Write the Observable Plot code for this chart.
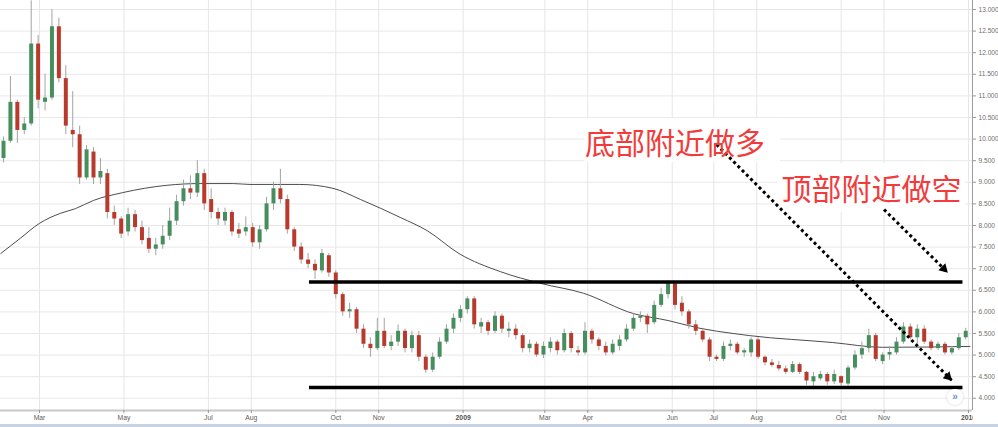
<!DOCTYPE html>
<html><head><meta charset="utf-8">
<script src="https://cdn.jsdelivr.net/npm/d3@7"></script>
<script src="https://cdn.jsdelivr.net/npm/@observablehq/plot@0.6"></script>
<style>
body{margin:0;background:#fff;}
#wrap{position:relative;width:998px;height:427px;overflow:hidden;background:#fff;}
#wrap svg{position:absolute;left:0;top:0;}
.strip{position:absolute;left:0;top:424px;width:998px;height:3px;background:#c7d2e4;}
.clip{position:absolute;left:973px;top:411px;width:25px;height:12px;background:#fff;}
.btn{position:absolute;left:947px;top:389px;width:16px;height:16px;border-radius:50%;background:#fff;box-shadow:0 0 3px rgba(0,0,0,0.18);color:#6f8fc8;font:bold 10px "Liberation Sans",Arial,sans-serif;text-align:center;line-height:15px;}
</style></head><body>
<div id="wrap"></div>
<script>
// ---- candle data (one candle every 5 calendar days, starting 2008-02-04) ----
const candleStart = "2008-02-04";
const candleStepDays = 5;
const open  = [9.55,9.95,10.85,10.2,10.35,12.2,10.85,10.95,12.6,11.4,10.2,10.1,9.1,9.7,9.1,9.2,8.3,8.15,7.85,8.25,
7.95,7.7,7.45,7.55,7.75,8.1,8.55,8.85,8.75,9.2,8.6,8.3,8.1,8.3,7.9,7.85,7.95,7.6,7.9,8.5,
8.85,8.6,7.9,7.5,7.2,7.1,6.95,7.3,6.9,6.4,6.0,6.05,5.6,5.25,5.15,5.55,5.2,5.3,5.55,5.15,
5.45,4.95,4.65,4.95,5.3,5.6,5.85,6.05,6.3,5.65,5.75,5.55,5.9,5.55,5.6,5.45,5.15,5.25,5.0,5.15,
5.3,5.1,5.5,5.1,5.05,5.55,5.35,5.2,5.05,5.2,5.35,5.6,5.85,5.9,5.75,6.15,6.4,6.65,6.2,6.0,
5.7,5.55,5.35,4.95,4.9,5.2,5.25,5.05,5.05,5.35,4.95,4.82,4.76,4.68,4.6,4.78,4.6,4.38,4.45,4.55,
4.38,4.5,4.33,4.7,5.0,5.15,5.45,4.85,5.0,5.05,5.3,5.65,5.4,5.6,5.3,5.15,5.25,5.05,5.15,5.4];
const close = [9.95,10.85,10.2,10.35,12.2,10.9,10.95,12.6,11.4,10.3,10.1,9.1,9.75,9.1,9.25,8.3,8.15,7.8,8.25,7.95,
7.65,7.45,7.55,7.75,8.1,8.55,8.85,8.75,9.2,8.5,8.3,8.15,8.3,7.85,7.8,7.95,7.6,7.9,8.5,8.85,
8.6,7.9,7.5,7.2,7.1,6.95,7.35,6.9,6.4,6.0,6.05,5.6,5.25,5.15,5.55,5.2,5.3,5.55,5.15,5.45,
4.95,4.65,4.95,5.3,5.6,5.85,6.05,6.3,5.7,5.75,5.55,5.9,5.6,5.6,5.45,5.15,5.25,5.0,5.2,5.3,
5.1,5.5,5.15,5.05,5.55,5.35,5.2,5.05,5.25,5.35,5.6,5.85,5.9,5.7,6.15,6.4,6.68,6.15,6.0,5.7,
5.55,5.35,4.95,4.9,5.2,5.25,5.05,5.1,5.35,4.95,4.82,4.76,4.68,4.6,4.78,4.6,4.4,4.5,4.55,4.38,
4.55,4.35,4.7,5.0,5.15,5.45,4.9,5.0,5.06,5.3,5.65,5.4,5.6,5.3,5.15,5.25,5.05,5.15,5.4,5.55];
const high  = [10.05,11.45,10.9,10.5,13.2,12.4,11.5,13.0,12.8,11.7,11.1,10.3,9.85,9.8,9.55,9.3,8.45,8.2,8.4,8.35,
8.1,7.95,7.7,8.0,8.4,8.7,9.05,9.15,9.5,9.3,8.85,8.4,8.4,8.35,8.05,8.2,8.05,8.0,8.65,9.0,
9.3,8.7,7.95,7.6,7.35,7.2,7.45,7.35,6.95,6.45,6.2,6.1,5.7,5.4,5.85,5.85,5.45,5.7,5.6,5.55,
5.55,5.0,5.05,5.4,5.7,5.95,6.15,6.35,6.35,5.85,5.8,6.0,5.95,5.75,5.7,5.5,5.35,5.3,5.3,5.4,
5.35,5.6,5.55,5.2,5.75,5.6,5.4,5.3,5.35,5.45,5.7,5.95,6.0,5.95,6.25,6.55,6.72,6.7,6.35,6.05,
5.8,5.6,5.4,5.0,5.3,5.35,5.3,5.15,5.4,5.4,4.98,4.9,4.85,4.75,4.85,4.82,4.62,4.6,4.62,4.6,
4.65,4.52,4.75,5.1,5.3,5.6,5.5,5.05,5.2,5.4,5.75,5.72,5.7,5.68,5.35,5.3,5.3,5.2,5.5,5.62];
const low   = [9.45,9.9,9.9,10.1,10.3,10.7,10.65,10.9,11.3,10.1,9.8,8.95,9.05,8.95,8.95,8.15,8.0,7.7,7.75,7.85,
7.55,7.35,7.3,7.45,7.65,8.0,8.45,8.6,8.65,8.35,8.15,8.0,8.0,7.75,7.7,7.75,7.5,7.45,7.85,8.35,
8.5,7.8,7.4,7.1,7.0,6.75,6.9,6.8,6.3,5.9,5.85,5.5,5.15,4.95,5.1,5.15,5.1,5.2,5.05,5.05,
4.85,4.58,4.6,4.9,5.25,5.5,5.75,5.95,5.6,5.5,5.45,5.5,5.5,5.4,5.35,5.05,5.05,4.95,4.92,5.05,
5.0,5.05,5.05,4.98,5.0,5.25,5.1,4.98,5.0,5.1,5.3,5.55,5.75,5.5,5.7,6.1,6.3,6.05,5.9,5.6,
5.45,5.3,4.85,4.85,4.85,5.1,5.0,4.95,4.95,4.9,4.75,4.72,4.63,4.55,4.57,4.55,4.3,4.27,4.4,4.3,
4.32,4.28,4.28,4.65,4.9,5.05,4.85,4.78,4.88,5.0,5.25,5.35,5.2,5.25,5.1,5.1,5.0,5.0,5.1,5.35];

// ---- moving average ----
const maDates = ["2008-02-02","2008-02-16","2008-03-01","2008-03-16","2008-03-27","2008-04-09","2008-04-30","2008-06-01","2008-06-25","2008-07-19","2008-07-31","2008-08-20","2008-09-05","2008-09-29","2008-10-19","2008-11-17","2008-12-06","2008-12-29","2009-01-28","2009-02-26","2009-03-29","2009-05-04","2009-05-29","2009-06-21","2009-07-15","2009-07-27","2009-09-25","2009-10-31","2010-01-02"];
const maValues = [7.35,7.7,8.05,8.28,8.39,8.58,8.76,8.93,8.97,8.97,8.95,8.95,8.95,8.86,8.6,8.18,7.88,7.35,6.93,6.66,6.43,5.96,5.8,5.62,5.5,5.45,5.29,5.18,5.2];

// ---- support / resistance levels ----
const levelValues = [6.69, 4.25];
const levelStart = "2008-09-12";
const levelEnd = "2009-12-28";

// ---- annotations ----
const noteTexts = ["底部附近做多", "顶部附近做空"];
const noteDates = ["2009-06-03", "2009-10-23"];
const notePrices = [9.875, 8.81];
const boxStart = ["2009-03-30", "2009-08-17"];
const boxEnd   = ["2009-08-18", "2009-12-30"];
const boxTop   = [10.48, 9.43];
const boxBottom= [9.46, 8.30];
const arrowStartDates = ["2009-07-03", "2009-11-01"];
const arrowStartPrices = [9.875, 8.37];
const arrowEndDates = ["2009-12-20", "2009-12-17"];
const arrowEndPrices = [4.41, 6.91];

// ---- axes ----
const xTickDates = ["2008-03-01","2008-05-01","2008-07-01","2008-08-01","2008-10-01","2008-11-01","2009-01-01","2009-03-01","2009-04-01","2009-06-01","2009-07-01","2009-08-01","2009-10-01","2009-11-01","2010-01-01"];
const xTickLabels = ["Mar","May","Jul","Aug","Oct","Nov","2009","Mar","Apr","Jun","Jul","Aug","Oct","Nov","2010"];
const yTicks = [4,4.5,5,5.5,6,6.5,7,7.5,8,8.5,9,9.5,10,10.5,11,11.5,12,12.5,13];
const xDomain = [new Date(Date.UTC(2008,2,1) - 28.17*864e5), new Date(Date.UTC(2010,0,1) + 2.89*864e5)];
const yDomain = [3.717, 13.208];

const upColor = "#468e5e", downColor = "#b83a2d";

const candles = open.map((o, i) => ({
  date: d3.utcDay.offset(new Date(candleStart), i * candleStepDays),
  open: o, close: close[i], high: high[i], low: low[i]
}));
const ma = maDates.map((d, i) => ({date: new Date(d), value: maValues[i]}));
const levels = levelValues.map(v => ({y: v, x1: new Date(levelStart), x2: new Date(levelEnd)}));
const notes = noteTexts.map((t, i) => ({text: t, date: new Date(noteDates[i]), price: notePrices[i]}));
const boxes = boxStart.map((d, i) => ({x1: new Date(d), x2: new Date(boxEnd[i]), y1: boxBottom[i], y2: boxTop[i]}));
const arrows = arrowStartDates.map((d, i) => ({x1: new Date(d), y1: arrowStartPrices[i], x2: new Date(arrowEndDates[i]), y2: arrowEndPrices[i]}));
const ticks = xTickDates.map((d, i) => ({date: new Date(d), label: xTickLabels[i]}));
const labelOf = new Map(ticks.map(t => [+t.date, t.label]));
const monthTicks = ticks.filter(t => !/^\d{4}$/.test(t.label)).map(t => t.date);
const yearTicks = ticks.filter(t => /^\d{4}$/.test(t.label)).map(t => t.date);

const chart = Plot.plot({
  width: 998, height: 427,
  marginLeft: 0, marginRight: 26, marginTop: 0, marginBottom: 17,
  x: {type: "utc", domain: xDomain},
  y: {domain: yDomain},
  style: {background: "transparent", fontFamily: "'Liberation Sans', Arial, sans-serif"},
  marks: [
    Plot.gridY(yTicks, {stroke: "#e8e8e8", strokeOpacity: 1}),
    Plot.gridX(ticks.map(t => t.date), {stroke: "#e6e6e6", strokeOpacity: 1}),
    Plot.rect(boxes, {x1: "x1", x2: "x2", y1: "y1", y2: "y2", fill: "#fff"}),
    Plot.line(ma, {x: "date", y: "value", stroke: "#4d4d4d", strokeWidth: 1, curve: "monotone-x"}),
    Plot.ruleX(candles, {x: "date", y1: "low", y2: "high", stroke: "#a3a3a3", strokeWidth: 1}),
    Plot.ruleX(candles, {x: "date", y1: "open", y2: "close", stroke: d => d.close >= d.open ? upColor : downColor, strokeWidth: 4}),
    Plot.ruleY(levels, {y: "y", x1: "x1", x2: "x2", stroke: "#000", strokeWidth: 3.5}),
    Plot.ruleY([yDomain[0]], {stroke: "#c8c8c8", strokeWidth: 2}),
    Plot.ruleX([xDomain[1]], {stroke: "#9c9c9c", strokeWidth: 1}),
    Plot.axisY(yTicks, {anchor: "right", tickSize: 3, tickPadding: 3, tickFormat: d => d.toFixed(3), fontSize: 6.6, fill: "#707070", stroke: "#999", label: null}),
    Plot.axisX(monthTicks, {tickSize: 3, tickPadding: 2, tickFormat: d => labelOf.get(+d), fontSize: 6.8, fill: "#606060", stroke: "#999", label: null}),
    Plot.axisX(yearTicks, {tickSize: 3, tickPadding: 2, tickFormat: d => labelOf.get(+d), fontSize: 6.8, fontWeight: "bold", fill: "#505050", stroke: "#999", label: null}),
    Plot.link(arrows, {x1: "x1", y1: "y1", x2: "x2", y2: "y2", stroke: "#000", strokeWidth: 3, strokeDasharray: "3,3"}),
    Plot.dot(arrows, {x: "x2", y: "y2", symbol: "triangle", r: 3.6, fill: "#000", stroke: "none", rotate: 135, dx: -3.85, dy: -3.85}),
    Plot.text(notes, {x: "date", y: "price", text: "text", fill: "#f23b3b", fontSize: 30, fontFamily: "'Noto Sans CJK SC', sans-serif"})
  ]
});
const wrap = document.getElementById("wrap");
wrap.appendChild(chart);
wrap.insertAdjacentHTML("beforeend", '<div class="clip"></div><div class="strip"></div><div class="btn">»</div>');
</script>
</body></html>
